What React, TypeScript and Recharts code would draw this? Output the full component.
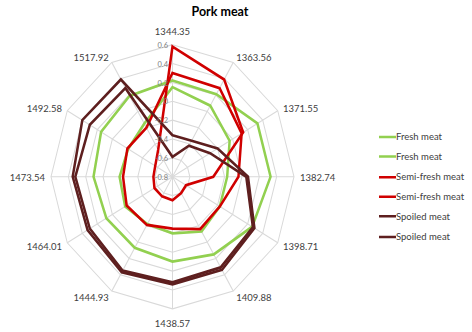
import React from 'react';
import { RadarChart, Radar, PolarGrid, PolarAngleAxis, PolarRadiusAxis, Legend } from 'recharts';

const categories = ['1344.35', '1363.56', '1371.55', '1382.74', '1398.71', '1409.88', '1438.57', '1444.93', '1464.01', '1473.54', '1492.58', '1517.92'];

const freshA = [0.22, 0.21, 0.33, 0.33, 0.26, 0.15, 0.10, 0.07, 0.08, 0.11, 0.15, 0.19];
const freshB = [0.15, 0.07, -0.04, -0.17, -0.17, -0.13, -0.2, -0.22, -0.17, -0.19, -0.21, -0.15];
const semiA = [0.58, 0.39, 0.14, -0.33, -0.62, -0.6, -0.55, -0.56, -0.56, -0.58, -0.57, -0.47];
const semiB = [0.30, 0.285, 0.12, -0.04, -0.17, -0.16, -0.25, -0.21, -0.19, -0.23, -0.2, -0.2];
const spoiledA = [-0.36, -0.36, -0.2, 0.07, 0.29, 0.34, 0.34, 0.37, 0.33, 0.35, 0.40, 0.39];
const spoiledB = [-0.59, -0.42, -0.3, 0.05, 0.27, 0.31, 0.32, 0.35, 0.30, 0.32, 0.30, 0.285];

const radiusDomain = [-0.8, 0.6];
const radiusTicks = [-0.8, -0.6, -0.4, -0.2, 0, 0.2, 0.4, 0.6];
const seriesKeys = ['f1', 'f2', 's1', 's2', 'p1', 'p2'];
const seriesNames = ['Fresh meat', 'Fresh meat', 'Semi-fresh meat', 'Semi-fresh meat', 'Spoiled meat', 'Spoiled meat'];
const seriesColors = ['#92D050', '#92D050', '#D00000', '#D00000', '#5E1F1F', '#5E1F1F'];
const title = 'Pork meat';

const seriesValues = [freshA, freshB, semiA, semiB, spoiledA, spoiledB];

const data = categories.map((c, i) => {
  const row: Record<string, any> = { cat: c };
  seriesKeys.forEach((k, j) => {
    row[k] = seriesValues[j][i];
  });
  return row;
});

const SY = 1.087;
const W = 472;
const H = 305;
const CX = 172.5;
const CY = 162.6;
const R = 121.5;
const FONT = 'Lato, "Open Sans", Arial, sans-serif';

function AngleTick(props: any) {
  const { x, y, payload } = props;
  const dx = x - CX;
  const dy = y - CY;
  const len = Math.hypot(dx, dy) || 1;
  const ux = dx / len;
  const uy = dy / len;
  const vertical = Math.abs(ux) < 0.02;
  const off = vertical ? 13 : 6;
  const tx = CX + ux * (R + off);
  const ty = CY + uy * (R + off);
  const anchor = vertical ? 'middle' : ux > 0 ? 'start' : 'end';
  return (
    <text x={tx} y={ty} textAnchor={anchor} dominantBaseline="central" fontSize={9.5} fill="#404040" fontFamily={FONT}>
      {payload.value}
    </text>
  );
}

function RadiusTick(props: any) {
  const { x, y, payload } = props;
  const v = Number(payload.value);
  const label = Math.abs(v) < 1e-9 ? '0' : v.toFixed(1);
  return (
    <text x={x - 4.5} y={y} textAnchor="end" dominantBaseline="central" fontSize={7.5} fill="#808080" fontFamily={FONT}>
      {label}
    </text>
  );
}

function LegendContent(props: any) {
  const payload = props.payload || [];
  return (
    <div style={{ fontFamily: FONT, fontSize: 9.5, color: '#404040' }}>
      {payload.map((e: any, i: number) => (
        <div key={i} style={{ display: 'flex', alignItems: 'center', height: 18.4, whiteSpace: 'nowrap' }}>
          <svg width={17} height={4} style={{ display: 'block' }}>
            <line x1={0} y1={2} x2={17} y2={2} stroke={e.color || seriesColors[i]} strokeWidth={2.2} />
          </svg>
          <span style={{ lineHeight: '10px' }}>{e.value}</span>
        </div>
      ))}
    </div>
  );
}

export default function App() {
  return (
    <div
      style={{
        position: 'absolute',
        left: 0,
        top: 0,
        width: W,
        height: H,
        transform: `scaleY(${SY})`,
        transformOrigin: '0 0',
        background: '#ffffff',
      }}
    >
      <div
        style={{
          position: 'absolute',
          left: 120,
          width: 200,
          top: 3,
          textAlign: 'center',
          fontFamily: FONT,
          fontWeight: 700,
          fontSize: 12.5,
          lineHeight: '15px',
          color: '#000',
        }}
      >
        {title}
      </div>
      <RadarChart
        width={W}
        height={H}
        data={data}
        cx={CX}
        cy={CY}
        outerRadius={R}
        margin={{ top: 0, right: 0, bottom: 0, left: 0 }}
      >
        <PolarGrid gridType="polygon" stroke="#D9D9D9" strokeWidth={1} />
        <PolarAngleAxis dataKey="cat" tick={AngleTick} tickLine={false} axisLine={false} />
        <PolarRadiusAxis
          radiusAxisId={0}
          angle={90}
          type="number"
          scale="linear"
          domain={radiusDomain}
          ticks={radiusTicks}
          tickCount={8}
          allowDecimals={true}
          allowDataOverflow={true}
          axisLine={false}
          tick={RadiusTick}
        />
        {seriesKeys.map((k, j) => (
          <Radar
            key={k}
            radiusAxisId={0}
            dataKey={k}
            name={seriesNames[j]}
            stroke={seriesColors[j]}
            strokeWidth={2.5}
            fill="none"
            fillOpacity={0}
            dot={false}
            isAnimationActive={false}
          />
        ))}
        <Legend
          layout="vertical"
          align="right"
          verticalAlign="top"
          content={LegendContent}
          wrapperStyle={{ left: 379, top: 116.6, width: 93 }}
        />
      </RadarChart>
    </div>
  );
}
